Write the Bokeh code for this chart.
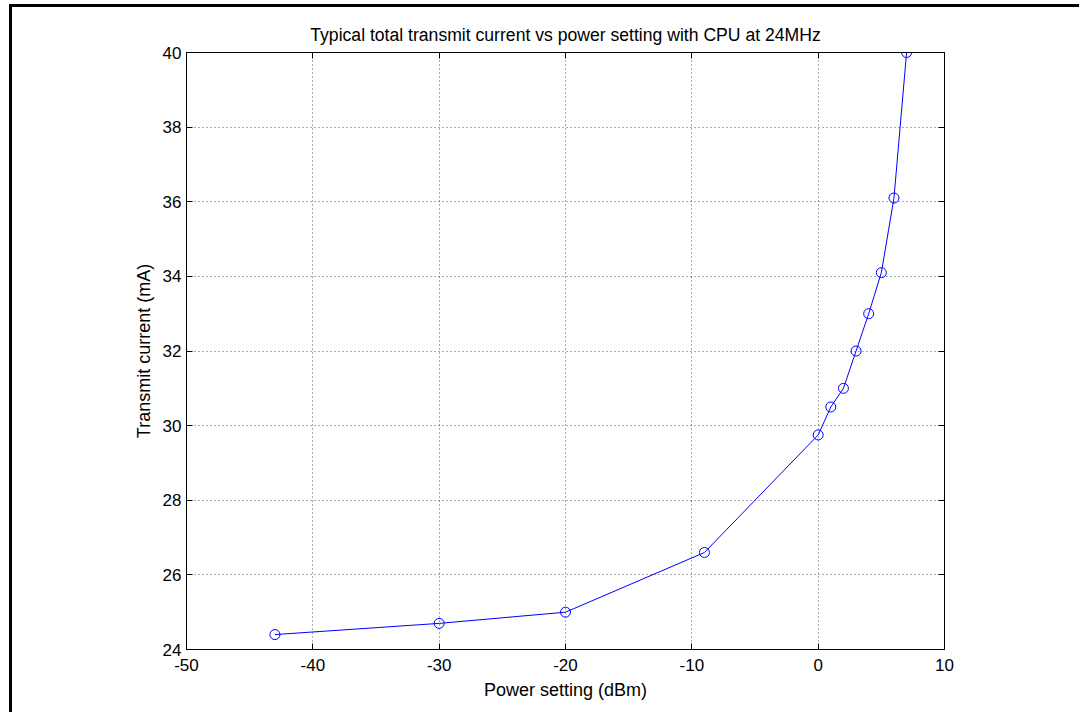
from bokeh.plotting import figure
from bokeh.models import Range1d, FixedTicker, LinearAxis
from bokeh.embed import file_html
from bokeh.resources import INLINE

# Data
power_dbm = [-43, -30, -20, -9, 0, 1, 2, 3, 4, 5, 6, 7]
current_ma = [24.4, 24.7, 25.0, 26.6, 29.75, 30.5, 31.0, 32.0, 33.0, 34.1, 36.1, 40.0]

x_ticks = [-50, -40, -30, -20, -10, 0, 10]
y_ticks = [24, 26, 28, 30, 32, 34, 36, 38, 40]

title_text = "Typical total transmit current vs power setting with CPU at 24MHz"
x_label = "Power setting (dBm)"
y_label = "Transmit current (mA)"

FONT = "Liberation Sans"
W, H = 1070, 708

p = figure(width=W, height=H, output_backend="svg", toolbar_location=None,
           x_range=Range1d(-50, 10), y_range=Range1d(24, 40),
           min_border_left=174, min_border_right=138,
           min_border_top=45, min_border_bottom=66,
           x_axis_label=x_label, y_axis_label=y_label,
           margin=(4, 0, 0, 9))
p.styles = {"border-left": "3px solid black", "border-top": "3px solid black"}

p.background_fill_color = "white"
p.border_fill_color = "white"
p.outline_line_color = "black"
p.outline_line_width = 1

p.title.text = title_text
p.title.align = "center"
p.title.text_font = FONT
p.title.text_font_style = "normal"
p.title.text_font_size = "17.6px"
p.title.text_color = "black"
p.title.standoff = 15

for ax in (p.xaxis[0], p.yaxis[0]):
    ax.axis_line_color = "black"
    ax.major_tick_line_color = "black"
    ax.major_tick_in = 6
    ax.major_tick_out = 0
    ax.minor_tick_line_color = None
    ax.major_label_text_font = FONT
    ax.major_label_text_font_size = "17px"
    ax.major_label_text_color = "black"
    ax.axis_label_text_font = FONT
    ax.axis_label_text_font_size = "18px"
    ax.axis_label_text_font_style = "normal"
    ax.axis_label_text_color = "black"

p.xaxis[0].ticker = FixedTicker(ticks=x_ticks)
p.yaxis[0].ticker = FixedTicker(ticks=y_ticks)
p.xaxis[0].major_label_overrides = {t: str(t) for t in x_ticks}
p.yaxis[0].major_label_overrides = {t: str(t) for t in y_ticks}
p.xaxis[0].major_label_standoff = 9
p.xaxis[0].axis_label_standoff = 6
p.yaxis[0].major_label_standoff = 5
p.yaxis[0].axis_label_standoff = 6

# mirrored axes on top and right (ticks only, labels not painted)
top_ax = LinearAxis(ticker=FixedTicker(ticks=x_ticks))
right_ax = LinearAxis(ticker=FixedTicker(ticks=y_ticks))
for ax in (top_ax, right_ax):
    ax.axis_line_color = "black"
    ax.major_tick_line_color = "black"
    ax.major_tick_in = 6
    ax.major_tick_out = 0
    ax.minor_tick_line_color = None
    ax.major_label_text_font_size = "1px"
    ax.major_label_text_alpha = 0
    ax.major_label_text_color = None
    ax.major_label_standoff = 0
p.add_layout(top_ax, "above")
p.add_layout(right_ax, "right")

for g in (p.xgrid[0], p.ygrid[0]):
    g.grid_line_color = "black"
    g.grid_line_alpha = 0.65
    g.grid_line_dash = "1 3"
    g.grid_line_width = 1
p.xgrid[0].ticker = FixedTicker(ticks=x_ticks)
p.ygrid[0].ticker = FixedTicker(ticks=y_ticks)

p.line(power_dbm, current_ma, line_color="#0000ff", line_width=1)
p.scatter(power_dbm, current_ma, marker="circle", size=10,
          fill_color=None, line_color="#0000ff", line_width=1)

open("out.html", "w").write(file_html(p, INLINE))
